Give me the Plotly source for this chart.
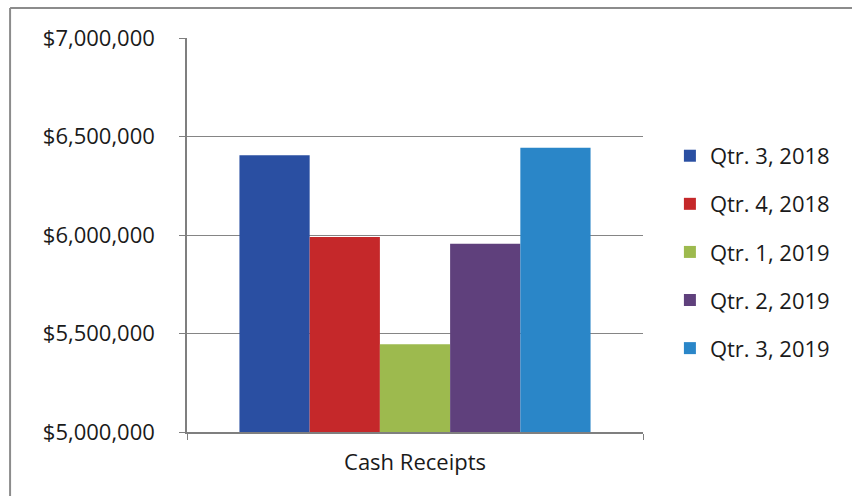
import plotly.graph_objects as go

category = ["Cash Receipts"]
series_names = ["Qtr. 3, 2018", "Qtr. 4, 2018", "Qtr. 1, 2019", "Qtr. 2, 2019", "Qtr. 3, 2019"]
values = [6405000, 5990000, 5445000, 5955000, 6443000]
colors = ["#2A4FA2", "#C5282A", "#9DBA4E", "#5F407C", "#2A86C8"]
tick_vals = [5000000, 5500000, 6000000, 6500000, 7000000]
tick_text = ["$5,000,000", "$5,500,000", "$6,000,000", "$6,500,000", "$7,000,000"]

FONT = "Open Sans"

fig = go.Figure()
for i, (name, v, c) in enumerate(zip(series_names, values, colors)):
    fig.add_trace(go.Bar(
        x=category, y=[v], name=name, marker=dict(color=c, line=dict(width=0)),
        legendgroup=str(i),
    ))

fig.update_layout(
    width=852, height=496,
    margin=dict(l=187, r=209, t=38, b=64),
    paper_bgcolor="white", plot_bgcolor="white",
    barmode="group", bargap=0.23, bargroupgap=0,
    font=dict(family=FONT, size=22, color="#1a1a1a"),
    showlegend=True,
    legend=dict(x=1.059, y=0.754, xanchor="left", yanchor="top",
                font=dict(family=FONT, size=22, color="#1a1a1a"),
                tracegroupgap=16.5, itemwidth=30, bgcolor="rgba(0,0,0,0)"),
    xaxis=dict(showline=True, linecolor="#7f7f7f", linewidth=1.5,
               ticks="outside", tickson="boundaries", ticklen=6, tickcolor="#7f7f7f",
               tickfont=dict(family=FONT, size=22, color="#1a1a1a"),
               ticklabelstandoff=10, showgrid=False),
    yaxis=dict(range=[5000000, 7000000], tickvals=tick_vals, ticktext=tick_text,
               showline=True, linecolor="#7f7f7f", linewidth=1.5,
               ticks="outside", ticklen=6, tickcolor="#7f7f7f",
               gridcolor="#858585", gridwidth=1.3, zeroline=False,
               tickfont=dict(family=FONT, size=22, color="#1a1a1a"),
               ticklabelstandoff=20),
    shapes=[
        dict(type="line", xref="paper", yref="paper", x0=-0.388, x1=1.46, y0=1.076, y1=1.076,
             line=dict(color="#8c8c8c", width=2)),
        dict(type="line", xref="paper", yref="paper", x0=-0.388, x1=-0.388, y0=1.076, y1=-0.17,
             line=dict(color="#8c8c8c", width=2)),
    ],
)

fig.write_html("out.html")
